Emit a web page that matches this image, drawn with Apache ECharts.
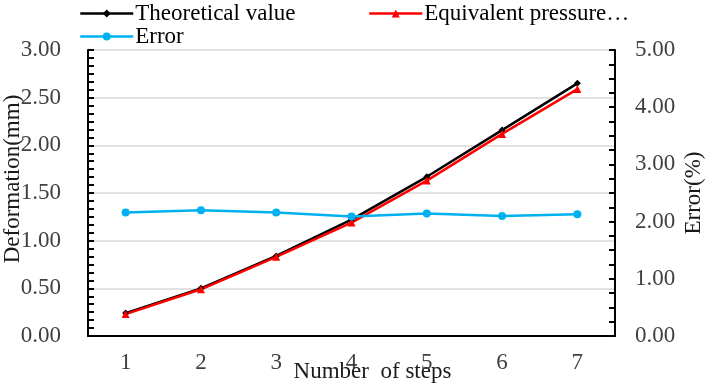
<!DOCTYPE html>
<html>
<head>
<meta charset="utf-8">
<script src="https://cdn.jsdelivr.net/npm/echarts@6/dist/echarts.min.js"></script>
<style>
  html, body { margin: 0; padding: 0; background: #fff; }
  #chart { width: 706px; height: 387px; }
</style>
</head>
<body>
<div id="chart"></div>
<script>
var steps = ['1', '2', '3', '4', '5', '6', '7']
var theoretical = [0.24, 0.50, 0.84, 1.22, 1.67, 2.16, 2.65]
var equivalent = [0.23, 0.49, 0.83, 1.19, 1.63, 2.12, 2.59]
var errorPct = [2.16, 2.20, 2.16, 2.09, 2.14, 2.10, 2.13]

var font = 'Liberation Serif'
var chart = echarts.init(document.getElementById('chart'))

function legendAt(name, left, top) {
  return {
    data: [name],
    left: left,
    top: top,
    itemWidth: 53,
    itemHeight: 10,
    itemGap: 0,
    padding: 0,
    selectedMode: false,
    lineStyle: { width: 2.5 },
    textStyle: { fontFamily: font, fontSize: 23, color: '#000', padding: [0, 0, 0, -3] }
  }
}

var option = {
  animation: false,
  backgroundColor: '#fff',
  legend: [
    legendAt('Theoretical value', 79, 2),
    legendAt('Equivalent pressure…', 368, 2),
    legendAt('Error', 79, 25)
  ],
  grid: { left: 88, right: 91, top: 50, bottom: 51, outerBoundsMode: 'none', containLabel: false },
  xAxis: [
    {
      type: 'category',
      data: steps,
      boundaryGap: true,
      name: 'Number  of steps',
      nameLocation: 'middle',
      nameGap: 24,
      nameMoveOverlap: false,
      nameTextStyle: { fontFamily: font, fontSize: 23, color: '#1a1a1a', padding: [0, 0, 0, 42] },
      axisLine: { lineStyle: { color: '#000', width: 2 } },
      axisTick: { inside: true, length: 6, lineStyle: { color: '#000', width: 2 } },
      axisLabel: { fontFamily: font, fontSize: 23, color: '#404040', margin: 15 },
      splitLine: { show: false }
    },
    {
      type: 'category',
      data: steps,
      position: 'bottom',
      boundaryGap: true,
      axisLine: { show: false },
      axisTick: { inside: true, alignWithLabel: true, length: 3, lineStyle: { color: '#000', width: 2 } },
      axisLabel: { show: false },
      splitLine: { show: false }
    }
  ],
  yAxis: [
    {
      type: 'value',
      min: 0,
      max: 3,
      interval: 0.5,
      name: 'Deformation(mm)',
      nameLocation: 'middle',
      nameGap: 64,
      nameRotate: 90,
      nameMoveOverlap: false,
      nameTextStyle: { fontFamily: font, fontSize: 23, color: '#1a1a1a', padding: [0, 0, 0, 28] },
      axisLine: { show: true, lineStyle: { color: '#000', width: 2 } },
      axisTick: { show: true, inside: true, length: 6, lineStyle: { color: '#000', width: 2 } },
      minorTick: { show: true, splitNumber: 6, length: 6, lineStyle: { color: '#000', width: 2 } },
      axisLabel: { fontFamily: font, fontSize: 23, color: '#404040', margin: 27, formatter: function (v) { return v.toFixed(2) } },
      splitLine: { show: true, lineStyle: { color: '#d9d9d9', width: 1.5 } }
    },
    {
      type: 'value',
      min: 0,
      max: 5,
      interval: 1,
      name: 'Error(%)',
      nameLocation: 'middle',
      nameGap: 67,
      nameRotate: 90,
      nameMoveOverlap: false,
      nameTextStyle: { fontFamily: font, fontSize: 23, color: '#1a1a1a' },
      axisLine: { show: true, lineStyle: { color: '#000', width: 2 } },
      axisTick: { show: true, inside: true, length: 6, lineStyle: { color: '#000', width: 2 } },
      minorTick: { show: true, splitNumber: 4, length: 6, lineStyle: { color: '#000', width: 2 } },
      axisLabel: { fontFamily: font, fontSize: 23, color: '#404040', margin: 20, formatter: function (v) { return v.toFixed(2) } },
      splitLine: { show: false }
    }
  ],
  series: [
    {
      name: 'Theoretical value',
      type: 'line',
      data: theoretical,
      yAxisIndex: 0,
      symbol: 'diamond',
      symbolSize: 7,
      itemStyle: { color: '#000' },
      lineStyle: { color: '#000', width: 2.5 }
    },
    {
      name: 'Equivalent pressure…',
      type: 'line',
      data: equivalent,
      yAxisIndex: 0,
      symbol: 'triangle',
      symbolSize: 8,
      itemStyle: { color: '#ff0000' },
      lineStyle: { color: '#ff0000', width: 2.5 }
    },
    {
      name: 'Error',
      type: 'line',
      data: errorPct,
      yAxisIndex: 1,
      symbol: 'circle',
      symbolSize: 8,
      itemStyle: { color: '#00b0f0' },
      lineStyle: { color: '#00b0f0', width: 2.5 }
    }
  ]
}

chart.setOption(option)
</script>
</body>
</html>
